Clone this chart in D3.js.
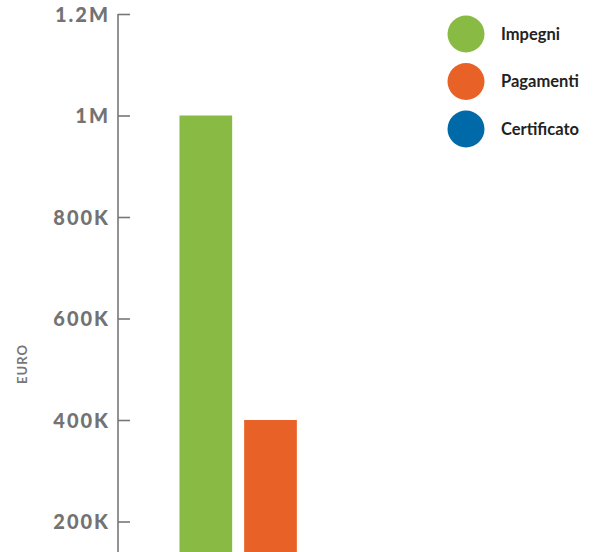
<!DOCTYPE html>
<html><head><meta charset="utf-8">
<script src="https://cdn.jsdelivr.net/npm/d3@7"></script>
<style>
html,body{margin:0;padding:0;background:#fff;overflow:hidden;}
svg{display:block;}
</style></head>
<body>
<script>
const categories = ["Impegni", "Pagamenti", "Certificato"];
const values = [1000000, 400000, 0];
const colors = ["#89ba43", "#e86227", "#0069a8"];
const tickValues = [200000, 400000, 600000, 800000, 1000000, 1200000];
const tickLabels = ["200K", "400K", "600K", "800K", "1M", "1.2M"];
const axisTitle = "EURO";

const W = 596, H = 552;
const svg = d3.select("body").append("svg").attr("width", W).attr("height", H);

const y = d3.scaleLinear().domain([0, 1200000]).range([623, 14]);
const x = d3.scaleBand().domain(categories).range([173, 368]).paddingInner(0.185).paddingOuter(0.1);

// axis
const axis = d3.axisLeft(y).tickValues(tickValues).tickSize(-12).tickPadding(20)
  .tickFormat((d, i) => tickLabels[i]);
const g = svg.append("g").attr("transform", "translate(118,0)").call(axis);
g.select(".domain").attr("stroke", "#777").attr("stroke-width", 1.6).attr("d", `M0,${y(1200000)}V${H}`);
g.selectAll(".tick line").attr("stroke", "#777").attr("stroke-width", 1.6).attr("x1", 0).attr("x2", 12);
g.selectAll(".tick text").attr("fill", "#737373").attr("font-family", "Lato, sans-serif")
  .attr("font-weight", 900).attr("font-size", 20).style("letter-spacing", "2px")
  .attr("x", -8).attr("dy", "0.35em");

svg.append("text").attr("transform", `translate(27,364) rotate(-90)`)
  .attr("text-anchor", "middle").attr("fill", "#777")
  .attr("font-family", "Lato, sans-serif").attr("font-weight", "bold").attr("font-size", 13)
  .style("letter-spacing", "1px").text(axisTitle);

// bars
svg.selectAll("rect.bar").data(categories).enter().append("rect")
  .attr("class", "bar")
  .attr("x", d => x(d)).attr("width", x.bandwidth())
  .attr("y", (d, i) => y(values[i])).attr("height", (d, i) => y(0) - y(values[i]))
  .attr("fill", (d, i) => colors[i]);

// legend
const lg = svg.append("g").attr("transform", "translate(466,34)");
const item = lg.selectAll("g").data(categories).enter().append("g")
  .attr("transform", (d, i) => `translate(0,${i * 47.5})`);
item.append("circle").attr("r", 18.5).attr("fill", (d, i) => colors[i]);
item.append("text").attr("x", 35).attr("dy", "0.35em").attr("fill", "#222")
  .attr("font-family", "Lato, sans-serif").attr("font-weight", "bold").attr("font-size", 16.5)
  .text(d => d);
</script>
</body></html>
